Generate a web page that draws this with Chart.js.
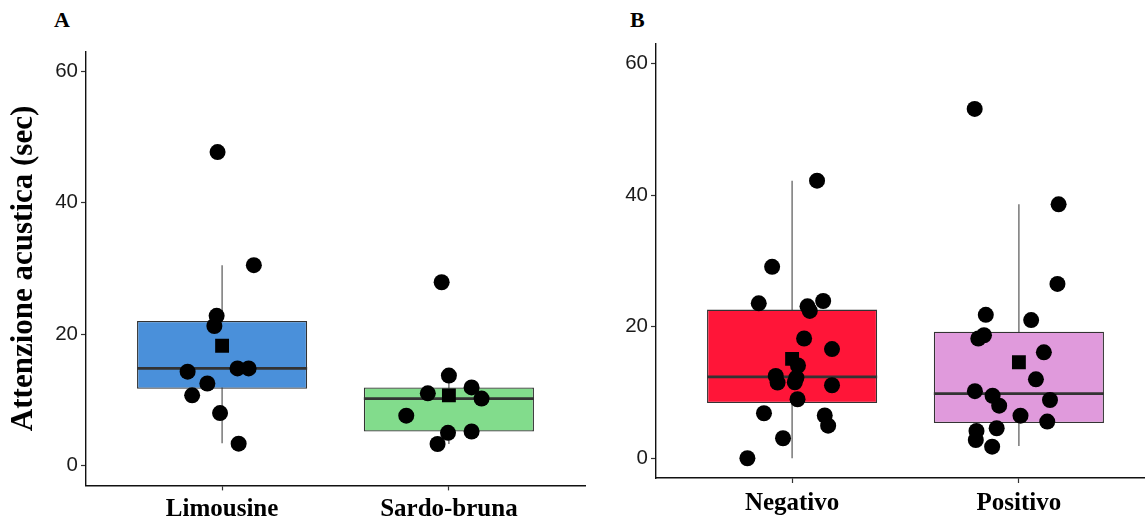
<!DOCTYPE html>
<html>
<head>
<meta charset="utf-8">
<script src="https://cdn.jsdelivr.net/npm/chart.js@4"></script>
<style>
  html, body { margin: 0; padding: 0; background: #fff; overflow: hidden; width: 1145px; height: 519px; }
  .panel { position: absolute; top: 0; }
  .tag { position: absolute; top: 7px; font: bold 22px "Liberation Serif", serif; color: #000; }
</style>
</head>
<body>
<div class="tag" style="left:54px">A</div>
<div class="tag" style="left:630px">B</div>
<canvas id="chartA" class="panel" style="left:0px" width="600" height="519"></canvas>
<canvas id="chartB" class="panel" style="left:590px" width="580" height="519"></canvas>
<script>
// Panel A: razza
const breedLabels = ["Limousine", "Sardo-bruna"];
const breedBox = [[11.7, 22.0], [5.2, 11.9]];       // Q1, Q3
const breedMedian = [14.8, 10.2];
const breedWhisker = [[3.4, 30.5], [3.3, 13.6]];
const breedMean = [18.25, 10.7];
const breedPoints = [
    [[0.98, 47.7], [1.14, 30.5], [0.976, 22.8], [0.966, 21.25], [0.848, 14.3], [1.068, 14.8],
     [1.117, 14.8], [0.935, 12.5], [0.868, 10.7], [0.991, 8.0], [1.073, 3.35]],
    [[1.968, 27.9], [2.0, 13.7], [1.907, 11.0], [2.10, 11.9], [2.144, 10.2], [1.812, 7.6],
     [1.996, 5.0], [2.10, 5.2], [1.95, 3.3]]
];
const breedColors = ["#4a90da", "#82dc8c"];

// Panel B: esito
const outcomeLabels = ["Negativo", "Positivo"];
const outcomeBox = [[8.4, 22.6], [5.36, 19.24]];
const outcomeMedian = [12.36, 9.82];
const outcomeWhisker = [[0, 42.2], [1.87, 38.6]];
const outcomeMean = [15.1, 14.6];
const outcomePoints = [
    [[1.11, 42.2], [0.912, 29.1], [0.853, 23.55], [1.137, 23.9], [1.068, 23.1], [1.078, 22.4],
     [1.053, 18.2], [1.176, 16.6], [1.026, 14.1], [0.928, 12.5], [0.936, 11.5], [1.019, 12.25],
     [1.012, 11.55], [1.176, 11.1], [1.024, 8.97], [0.876, 6.84], [1.144, 6.5], [1.159, 4.95],
     [0.96, 3.04], [0.803, 0]],
    [[1.805, 53.1], [2.175, 38.6], [2.17, 26.5], [1.854, 21.8], [2.054, 21.0], [1.846, 18.7],
     [1.821, 18.2], [2.11, 16.1], [2.075, 12.0], [1.806, 10.2], [1.884, 9.5], [2.137, 8.86],
     [1.913, 8.0], [2.007, 6.47], [2.125, 5.57], [1.902, 4.56], [1.813, 4.15], [1.81, 2.78],
     [1.882, 1.76]]
];
const outcomeColors = ["#ff1538", "#e09adc"];

const yTicks = [0, 20, 40, 60];
const boxHalf = 0.375;

function segs(pairs) {
    // build line data with gaps between groups
    const out = [];
    pairs.forEach((p, i) => {
        if (i > 0) out.push({ x: i + 0.5, y: null });
        out.push(p[0], p[1]);
    });
    return out;
}

function makeChart(id, labels, box, median, whisker, mean, points, colors, opts) {
    const datasets = [
        {
            type: "line",
            data: segs(whisker.map((w, i) => [{ x: i + 1, y: w[0] }, { x: i + 1, y: w[1] }])),
            borderColor: "#555",
            borderWidth: 1.2,
            pointRadius: 0,
            spanGaps: false,
            order: 5,
        },
        {
            type: "bar",
            data: box.map((b, i) => ({ x: i + 1, y: b })),
            backgroundColor: colors,
            borderColor: "#333",
            borderWidth: 1.3,
            borderSkipped: false,
            barPercentage: 0.75,
            categoryPercentage: 1,
            order: 4,
        },
        {
            type: "line",
            data: segs(median.map((m, i) => [{ x: i + 1 - boxHalf, y: m }, { x: i + 1 + boxHalf, y: m }])),
            borderColor: "#333",
            borderWidth: 2.8,
            pointRadius: 0,
            spanGaps: false,
            order: 3,
        },
        {
            type: "scatter",
            data: points.flat().map(p => ({ x: p[0], y: p[1] })),
            backgroundColor: "#000",
            borderColor: "#000",
            pointRadius: 8,
            borderWidth: 0,
            order: 2,
        },
        {
            type: "scatter",
            data: mean.map((m, i) => ({ x: i + 1, y: m })),
            backgroundColor: "#000",
            borderColor: "#000",
            pointStyle: "rect",
            pointRadius: 9.8,
            borderWidth: 0,
            order: 1,
        },
    ];

    return new Chart(document.getElementById(id), {
        type: "bar",
        data: { datasets },
        options: {
            responsive: false,
            animation: false,
            layout: { padding: opts.padding },
            plugins: { legend: { display: false }, tooltip: { enabled: false } },
            scales: {
                x: {
                    type: "linear",
                    min: 0.4,
                    max: 2.6,
                    offset: false,
                    afterBuildTicks: s => { s.ticks = labels.map((l, i) => ({ value: i + 1 })); },
                    afterFit: s => { s.height = opts.xHeight; },
                    ticks: {
                        callback: (v) => labels[Math.round(v) - 1],
                        font: { family: "Liberation Serif", weight: "bold", size: 25 },
                        color: "#000",
                        padding: opts.xPad,
                        maxRotation: 0,
                    },
                    grid: { offset: false, drawOnChartArea: false, tickLength: 5, color: "#333", tickWidth: 1.2 },
                    border: { display: true, color: "#111", width: 1.4 },
                },
                y: {
                    type: "linear",
                    min: -3,
                    max: 63,
                    afterBuildTicks: s => { s.ticks = yTicks.map(v => ({ value: v })); },
                    afterFit: s => { s.width = opts.yWidth; },
                    ticks: {
                        font: { family: "Liberation Sans", size: 20.5 },
                        color: "#1a1a1a",
                        padding: 3,
                    },
                    title: {
                        display: !!opts.yTitle,
                        text: opts.yTitle || "",
                        font: { family: "Liberation Serif", weight: "bold", size: 31 },
                        color: "#000",
                        padding: { top: 5, bottom: 4 },
                    },
                    grid: { drawOnChartArea: false, tickLength: 5, color: "#333", tickWidth: 1.2 },
                    border: { display: true, color: "#111", width: 1.4 },
                },
            },
        },
    });
}

makeChart("chartA", breedLabels, breedBox, breedMedian, breedWhisker, breedMean, breedPoints, breedColors, {
    padding: { top: 51.5, right: 15, bottom: 0, left: 0 },
    yWidth: 86,
    xHeight: 33.6,
    xPad: 4,
    yTitle: "Attenzione acustica (sec)",
});

makeChart("chartB", outcomeLabels, outcomeBox, outcomeMedian, outcomeWhisker, outcomeMean, outcomePoints, outcomeColors, {
    padding: { top: 43.8, right: 15, bottom: 0, left: 0 },
    yWidth: 66,
    xHeight: 41,
    xPad: 6,
});
</script>
</body>
</html>
